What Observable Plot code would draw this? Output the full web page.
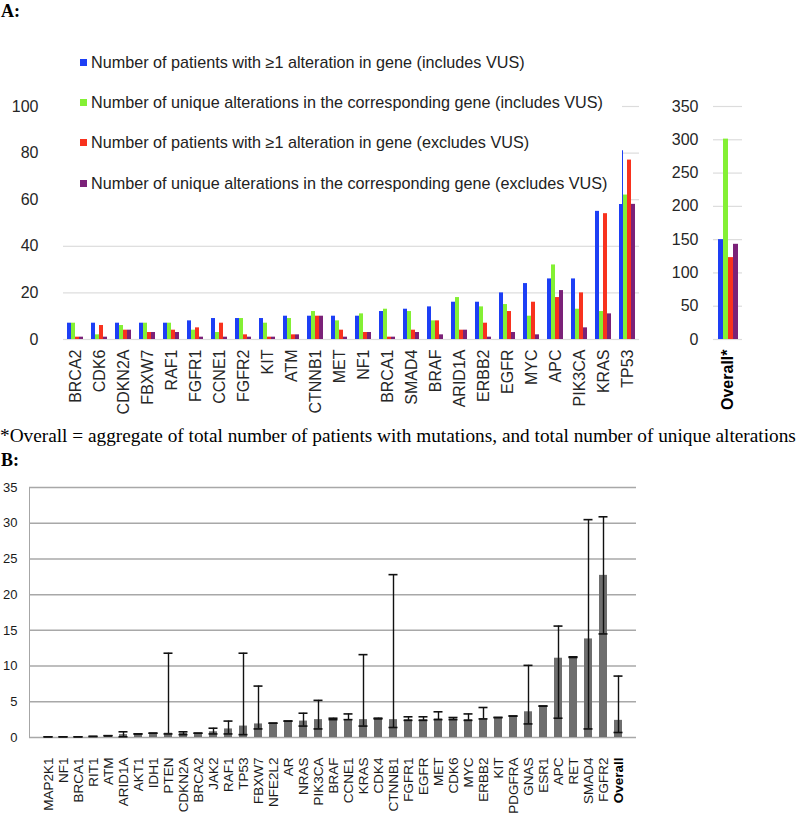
<!DOCTYPE html>
<html><head><meta charset="utf-8">
<script src="https://cdn.jsdelivr.net/npm/d3@7"></script>
<script src="https://cdn.jsdelivr.net/npm/@observablehq/plot@0.6"></script>
<style>
body{margin:0;background:#fff;}
#root{position:relative;width:800px;height:815px;overflow:hidden;font-family:"Liberation Sans",Arial,sans-serif;background:#fff;}
.serif{font-family:"Liberation Serif","Times New Roman",serif;color:#000;white-space:nowrap;}
.legend{background:#fff;}
.legend .item{position:absolute;left:20px;height:20px;display:flex;align-items:center;font-size:16.2px;color:#222;white-space:nowrap;}
.legend .sw{width:7px;height:7px;margin-right:4px;flex:none;}
.plotB text{fill:#1a1a1a;}
</style></head><body><div id="root"></div>
<script>
// ---------- Panel A data ----------
const genesA = ["BRCA2","CDK6","CDKN2A","FBXW7","RAF1","FGFR1","CCNE1","FGFR2","KIT","ATM","CTNNB1","MET","NF1","BRCA1","SMAD4","BRAF","ARID1A","ERBB2","EGFR","MYC","APC","PIK3CA","KRAS","TP53"];
const seriesA = [
  "Number of patients with \u22651 alteration in gene (includes VUS)",
  "Number of unique alterations in the corresponding gene (includes VUS)",
  "Number of patients with \u22651 alteration in gene (excludes VUS)",
  "Number of unique alterations in the corresponding gene (excludes VUS)"
];
const patientsIncl = [7,7,7,7,7,8,9,9,9,10,10,10,10,12,13,14,16,16,20,24,26,26,55,81];
const uniqueIncl   = [7,2,6,7,7,4,3,9,7,9,12,8,11,13,12,8,18,14,15,10,32,13,12,62];
const patientsExcl = [1,6,4,3,4,5,7,2,1,2,10,4,3,1,4,8,4,7,12,16,18,20,54,77];
const uniqueExcl   = [1,1,4,3,3,1,1,1,1,2,10,1,3,1,3,2,4,1,3,2,21,5,11,58];
const colorsA = ["#1d3ff5","#84f034","#f8321e","#7b2178"];
const ticksA = [0,20,40,60,80,100];
const overallLabel = "Overall*";
const overallValues = [150,301,123,143];
const ticksOverall = [0,50,100,150,200,250,300,350];

// ---------- Panel B data ----------
const genesB = ["MAP2K1","NF1","BRCA1","RIT1","ATM","ARID1A","AKT1","IDH1","PTEN","CDKN2A","BRCA2","JAK2","RAF1","TP53","FBXW7","NFE2L2","AR","NRAS","PIK3CA","BRAF","CCNE1","KRAS","CDK4","CTNNB1","FGFR1","EGFR","MET","CDK6","MYC","ERBB2","KIT","PDGFRA","GNAS","ESR1","APC","RET","SMAD4","FGFR2","Overall"];
const meanB = [0.1,0.1,0.1,0.15,0.25,0.4,0.5,0.6,0.6,0.6,0.6,0.8,1.2,1.6,1.9,2.0,2.3,2.3,2.5,2.6,2.5,2.5,2.7,2.5,2.5,2.5,2.6,2.6,2.5,2.6,2.8,3.0,3.6,4.4,11.1,11.3,13.8,22.7,2.4];
const lowB  = [0.1,0.1,0.1,0.15,0.25,0.1,0.5,0.6,0.5,0.4,0.6,0.5,0.5,0.4,1.2,2.0,2.3,1.6,1.2,2.5,2.5,1.6,2.6,1.4,2.4,2.4,2.5,2.5,2.4,2.6,2.8,3.0,1.9,4.4,2.7,11.2,1.2,14.5,0.7];
const highB = [0.1,0.1,0.1,0.15,0.25,0.8,0.5,0.6,11.8,0.8,0.6,1.3,2.3,11.8,7.2,2.0,2.3,3.4,5.2,2.7,3.3,11.6,2.7,22.8,2.9,2.9,3.6,2.8,3.3,4.2,2.8,3.0,10.1,4.4,15.6,11.3,30.5,30.9,8.6];
const ticksB = [0,5,10,15,20,25,30,35];

// ---------- build ----------
const root = document.getElementById("root");
function place(el, left, top){ el.style.position="absolute"; el.style.left=left+"px"; el.style.top=top+"px"; root.appendChild(el); return el; }

const allSeries = [patientsIncl, uniqueIncl, patientsExcl, uniqueExcl];
const dataA = [];
genesA.forEach((g,i)=>allSeries.forEach((vals,k)=>dataA.push({gene:g, series:seriesA[k], value:vals[i]})));
const dataO = overallValues.map((v,k)=>({gene:overallLabel, series:seriesA[k], value:v}));

const fontA = {fontSize:"16px", fontFamily:"Liberation Sans, Arial, sans-serif", color:"#262626", background:"transparent", overflow:"visible"};

const plotA = Plot.plot({
  width:660, height:440, marginTop:106, marginBottom:101, marginLeft:53, marginRight:12,
  style:fontA,
  fx:{domain:genesA, padding:0, label:null, axis:"bottom", tickRotate:-90, tickSize:0, tickPadding:10},
  x:{domain:seriesA, axis:null, paddingInner:0, paddingOuter:1},
  y:{domain:[0,100], ticks:ticksA, label:null, tickSize:0, tickPadding:25},
  color:{domain:seriesA, range:colorsA},
  marks:[
    Plot.ruleY(ticksA, {stroke:"#dcdcdc", strokeWidth:1.2}),
    Plot.barY(dataA, {fx:"gene", x:"series", y:"value", fill:"series"})
  ]
});
place(plotA, 0, 0);

const plotO = Plot.plot({
  width:160, height:440, marginTop:106, marginBottom:101, marginLeft:73, marginRight:58,
  style:fontA,
  fx:{domain:[overallLabel], padding:0, label:null, axis:"bottom", tickRotate:-90, tickSize:0, tickPadding:10},
  x:{domain:seriesA, axis:null, paddingInner:0, paddingOuter:0.9},
  y:{domain:[0,350], ticks:ticksOverall, label:null, tickSize:0, tickPadding:15},
  color:{domain:seriesA, range:colorsA},
  marks:[
    Plot.ruleY(ticksOverall, {stroke:"#dcdcdc", strokeWidth:1.2}),
    Plot.barY(dataO, {fx:"gene", x:"series", y:"value", fill:"series"})
  ]
});
d3.select(plotO).selectAll("text").filter(function(){return this.textContent===overallLabel;}).style("font-weight","bold").style("fill","#000");
place(plotO, 640, 0);

// legend (overlapping the plot, as in the original)
const leg = document.createElement("div");
leg.className = "legend";
leg.style.width = "562px"; leg.style.height = "162px";
const rowTops = [10,50,90,131];
seriesA.forEach((s,k)=>{
  const it = document.createElement("div"); it.className="item"; it.style.top = rowTops[k]+"px";
  const sw = document.createElement("span"); sw.className="sw"; sw.style.background = colorsA[k];
  const tx = document.createElement("span"); tx.textContent = s;
  it.appendChild(sw); it.appendChild(tx); leg.appendChild(it);
});
place(leg, 60, 42);

// titles & caption
const tA = document.createElement("div"); tA.className="serif"; tA.style.fontWeight="bold"; tA.style.fontSize="18px"; tA.textContent="A:";
place(tA, 1, 1);
const cap = document.createElement("div"); cap.className="serif"; cap.style.fontSize="19.3px";
cap.textContent = "*Overall = aggregate of total number of patients with mutations, and total number of unique alterations";
place(cap, 0, 425);
const tB = document.createElement("div"); tB.className="serif"; tB.style.fontWeight="bold"; tB.style.fontSize="18px"; tB.textContent="B:";
place(tB, 1, 450);

// Panel B
const dataB = genesB.map((g,i)=>({gene:g, mean:meanB[i], lo:lowB[i], hi:highB[i]}));
const plotB = Plot.plot({
  width:800, height:345, marginTop:17, marginBottom:78, marginLeft:29, marginRight:164,
  style:{fontSize:"13.5px", fontFamily:"Liberation Sans, Arial, sans-serif", color:"#a6a6a6", background:"transparent", overflow:"visible"},
  x:{domain:genesB, padding:0.48, label:null, tickRotate:-90, tickSize:0, tickPadding:20},
  y:{domain:[0,35], ticks:ticksB, label:null, tickSize:0, tickPadding:12, line:true},
  marks:[
    Plot.ruleY(ticksB, {stroke:"#a8a8a8", strokeWidth:1.5}),
    Plot.barY(dataB, {x:"gene", y:"mean", fill:"#6e6e6e"}),
    Plot.ruleX(dataB, {x:"gene", y1:"lo", y2:"hi", stroke:"#111", strokeWidth:1.4}),
    Plot.tickY(dataB, {x:"gene", y:"lo", stroke:"#111", strokeWidth:1.6, inset:-0.5}),
    Plot.tickY(dataB, {x:"gene", y:"hi", stroke:"#111", strokeWidth:1.6, inset:-0.5})
  ]
});
plotB.classList.add("plotB");
d3.select(plotB).selectAll("text").filter(function(){return this.textContent==="Overall";}).style("font-weight","bold").style("fill","#000");
d3.select(plotB).selectAll("g[aria-label='y-axis tick label'] text").style("font-size","13px");
place(plotB, 0, 470);
</script></body></html>
